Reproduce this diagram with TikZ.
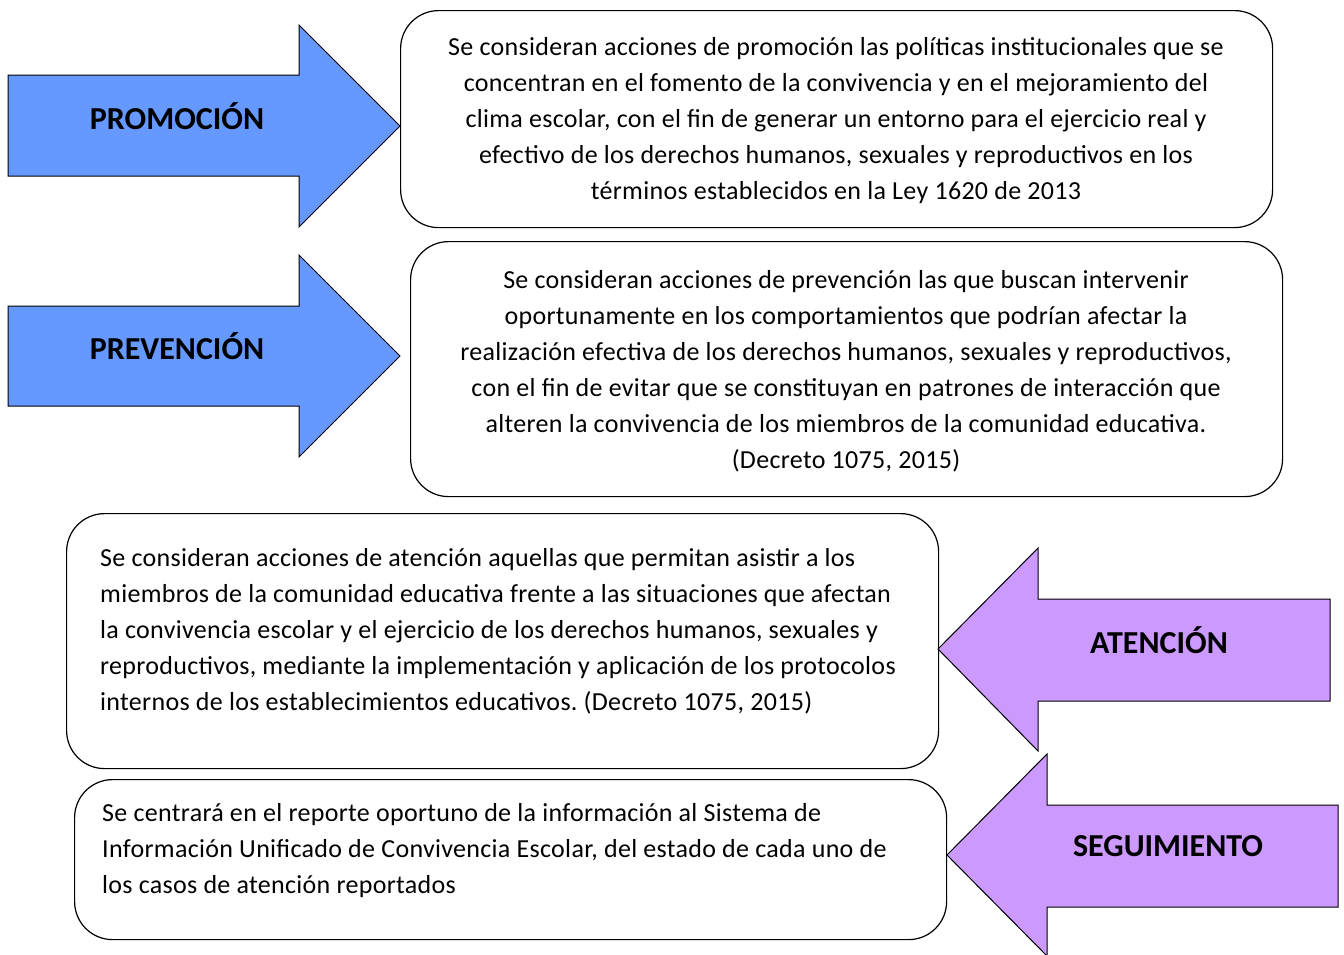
\documentclass[tikz,border=0pt]{standalone}
\usepackage{fontspec}
\setmainfont{Carlito}
\frenchspacing
\definecolor{azulflecha}{HTML}{6699FF}
\definecolor{lilaflecha}{HTML}{CC99FF}
\begin{document}
\begin{tikzpicture}[x=1pt,y=-1pt,
    caja/.style={draw, line width=1.2pt, rounded corners=38pt, inner sep=0pt, anchor=north west},
    flecha/.style={draw, line width=1pt, fill=#1},
    etiqueta/.style={font=\fontsize{32}{36}\selectfont\bfseries},
    texto/.style={font=\fontsize{26}{36}\selectfont\addfontfeatures{LetterSpace=1.2}, inner sep=0pt}]
  \useasboundingbox (0,0) rectangle (1344,954);

  % flechas
  \draw[flecha=azulflecha] (8,75) -- (299,75) -- (299,25) -- (400,126) -- (299,227) -- (299,176) -- (8,176) -- cycle;
  \draw[flecha=azulflecha] (8,306) -- (299,306) -- (299,255) -- (400,356) -- (299,457) -- (299,406) -- (8,406) -- cycle;
  \draw[flecha=lilaflecha] (1330,599) -- (1038,599) -- (1038,548) -- (938,649) -- (1038,751) -- (1038,701) -- (1330,701) -- cycle;
  \draw[flecha=lilaflecha] (1338,805) -- (1047,805) -- (1047,754) -- (947,855) -- (1047,956) -- (1047,907) -- (1338,907) -- cycle;

  \node[etiqueta] (promocion) at (177,116) {PROMOCIÓN};
  \node[etiqueta] (prevencion) at (177,346) {PREVENCIÓN};
  \node[etiqueta] (atencion) at (1159,640) {ATENCIÓN};
  \node[etiqueta] (seguimiento) at (1168,846) {SEGUIMIENTO};

  % cajas
  \node[caja, minimum width=872pt, minimum height=217pt] (cprom) at (400,10) {};
  \node[caja, minimum width=872pt, minimum height=255pt] (cprev) at (410,241) {};
  \node[caja, minimum width=872pt, minimum height=255pt] (caten) at (66,513) {};
  \node[caja, minimum width=872pt, minimum height=160pt] (cseg) at (74,779) {};

  \node[texto, align=center] (tprom) at (836,121) {Se consideran acciones de promoción las políticas institucionales que se\\
    concentran en el fomento de la convivencia y en el mejoramiento del\\
    clima escolar, con el fin de generar un entorno para el ejercicio real y\\
    efectivo de los derechos humanos, sexuales y reproductivos en los\\
    términos establecidos en la Ley 1620 de 2013};
  \node[texto, align=center] (tprev) at (846,371) {Se consideran acciones de prevención las que buscan intervenir\\
    oportunamente en los comportamientos que podrían afectar la\\
    realización efectiva de los derechos humanos, sexuales y reproductivos,\\
    con el fin de evitar que se constituyan en patrones de interacción que\\
    alteren la convivencia de los miembros de la comunidad educativa.\\
    (Decreto 1075, 2015)};
  \node[texto, align=left, anchor=west] (taten) at (100,631) {Se consideran acciones de atención aquellas que permitan asistir a los\\
    miembros de la comunidad educativa frente a las situaciones que afectan\\
    la convivencia escolar y el ejercicio de los derechos humanos, sexuales y\\
    reproductivos, mediante la implementación y aplicación de los protocolos\\
    internos de los establecimientos educativos. (Decreto 1075, 2015)};
  \node[texto, align=left, anchor=west] (tseg) at (102,851) {Se centrará en el reporte oportuno de la información al Sistema de\\
    Información Unificado de Convivencia Escolar, del estado de cada uno de\\
    los casos de atención reportados};
\end{tikzpicture}
\end{document}
